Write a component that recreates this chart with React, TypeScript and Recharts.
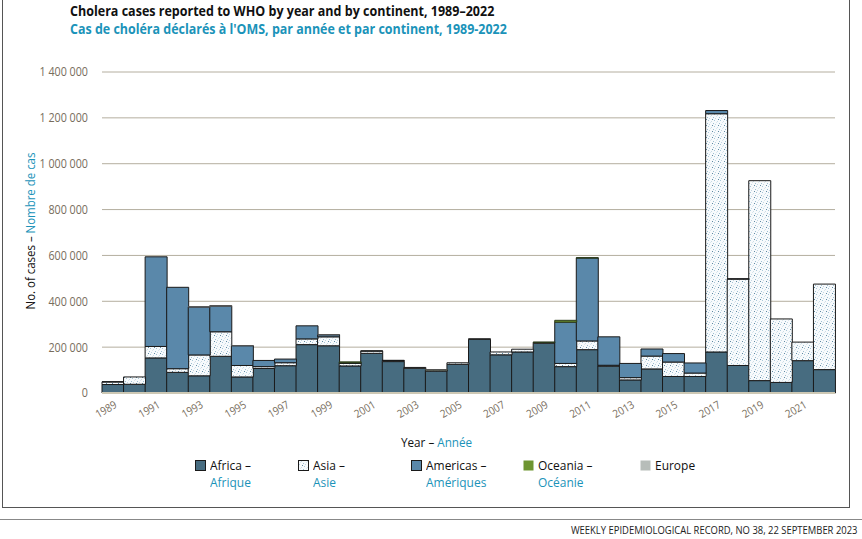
import React from "react";
import { Bar, BarChart, CartesianGrid, XAxis, YAxis } from "recharts";

const years = [
  1989, 1990, 1991, 1992, 1993, 1994, 1995, 1996, 1997, 1998, 1999, 2000, 2001, 2002, 2003, 2004, 2005,
  2006, 2007, 2008, 2009, 2010, 2011, 2012, 2013, 2014, 2015, 2016, 2017, 2018, 2019, 2020, 2021, 2022,
];
const africa = [
  37000, 38000, 153000, 90000, 75000, 160000, 70000, 107000, 119000, 211000, 206000, 118000, 173000,
  137000, 108000, 95500, 125000, 234000, 166500, 179000, 217000, 115000, 189000, 117000, 57000, 105000,
  72000, 72000, 179000, 120000, 54000, 46000, 141000, 102000,
];
const asia = [
  11500, 32000, 50000, 16000, 91000, 107000, 50000, 8000, 13000, 25000, 39000, 11000, 10000, 5000, 3500,
  5800, 6800, 2500, 12500, 12000, 4000, 14000, 38000, 4000, 10000, 56000, 63000, 15000, 1039000, 377000,
  872000, 277000, 81000, 373000,
];
const americas = [
  300, 0, 391000, 355000, 209000, 112000, 86000, 27000, 16000, 57000, 9000, 3000, 500, 100, 0, 0, 0, 0,
  0, 0, 0, 180000, 362000, 124000, 62000, 31000, 37000, 44000, 14000, 1000, 0, 0, 0, 0,
];
const oceania = [
  0, 0, 0, 0, 0, 0, 0, 0, 0, 0, 0, 3800, 0, 0, 0, 200, 0, 0, 0, 0, 500, 8000, 1000, 0, 0, 0, 0, 0, 0,
  0, 0, 0, 0, 0,
];
const europe = [
  0, 0, 0, 0, 1500, 2500, 1000, 0, 0, 0, 500, 0, 0, 0, 0, 50, 0, 0, 0, 0, 0, 0, 0, 0, 0, 0, 0, 0, 0, 0,
  0, 0, 0, 0,
];
const yTicks = [0, 200000, 400000, 600000, 800000, 1000000, 1200000, 1400000];

const data = years.map((year, i) => ({
  year,
  africa: africa[i],
  asia: asia[i],
  americas: americas[i],
  oceania: oceania[i],
  europe: europe[i],
}));

const FONT = '"Open Sans", "DejaVu Sans", sans-serif';
const TEAL = "#1b93b9";
const TICK = "#776d5d";
const AFRICA = "#476c80";
const AMERICAS = "#5a88aa";
const OCEANIA = "#6e9531";
const EUROPE = "#b7bdb9";

const fmt = (v: number) => String(v).replace(/\B(?=(\d{3})+(?!\d))/g, " ");

function YearTick(props: any) {
  const { x, y, payload } = props;
  return (
    <g transform={`translate(${x + 5} ${y + 6}) rotate(-30) scale(0.9 1)`}>
      <text x={0} y={0} textAnchor="end" fill={TICK} fontSize={11} fontFamily={FONT}>
        {payload.value}
      </text>
    </g>
  );
}

function CaseTick(props: any) {
  const { x, y, payload } = props;
  return (
    <g transform={`translate(${x} ${y}) scale(0.86 1)`}>
      <text x={0} y={0} dy="0.35em" textAnchor="end" fill={TICK} fontSize={12.5} fontFamily={FONT}>
        {fmt(payload.value)}
      </text>
    </g>
  );
}

// speckled fill used for Asia
function DotPattern({ id }: { id: string }) {
  return (
    <pattern id={id} width={6} height={6} patternUnits="userSpaceOnUse">
      <rect width={6} height={6} fill="#f7fafc" />
      <rect x={0} y={0} width={1} height={1} fill="#a7c6d8" />
      <rect x={3} y={1} width={1} height={1} fill="#c9dce7" />
      <rect x={5} y={3} width={1} height={1} fill="#9dbfd2" />
      <rect x={1} y={4} width={1} height={1} fill="#c2d7e4" />
      <rect x={4} y={5} width={1} height={1} fill="#5f8aa3" />
      <rect x={2} y={2} width={1} height={1} fill="#dbe7ee" />
    </pattern>
  );
}

function Swatch({ fill, border }: { fill: string; border: boolean }) {
  return (
    <svg width={11} height={11} style={{ position: "absolute", left: 0, top: 3 }}>
      <defs>
        <DotPattern id="asiaDotsLegend" />
      </defs>
      <rect x={0.5} y={0.5} width={10} height={10} fill={fill} stroke={border ? "#1a1a1a" : "none"} />
    </svg>
  );
}

const legendItems = [
  { left: 195, fill: AFRICA, border: true, en: "Africa –", fr: "Afrique" },
  { left: 298, fill: "url(#asiaDotsLegend)", border: true, en: "Asia –", fr: "Asie" },
  { left: 411, fill: AMERICAS, border: true, en: "Americas –", fr: "Amériques" },
  { left: 523, fill: OCEANIA, border: false, en: "Oceania –", fr: "Océanie" },
  { left: 640, fill: EUROPE, border: false, en: "Europe", fr: "" },
];

const narrow = (s: number, origin = "left top"): React.CSSProperties => ({
  transform: `scaleX(${s})`,
  transformOrigin: origin,
  whiteSpace: "nowrap",
});

export default function App() {
  return (
    <div
      style={{
        position: "absolute",
        left: 0,
        top: 0,
        width: 862,
        height: 539,
        background: "#ffffff",
        fontFamily: FONT,
        overflow: "hidden",
      }}
    >
      {/* frame */}
      <div
        style={{
          position: "absolute",
          left: 2,
          top: -1,
          width: 846,
          height: 508,
          borderLeft: "1px solid #555",
          borderRight: "1px solid #555",
          borderBottom: "1px solid #555",
        }}
      />
      <div style={{ position: "absolute", left: 0, top: 519, width: 862, height: 0, borderTop: "1px solid #888" }} />

      <div style={{ position: "absolute", left: 70, top: 2, fontSize: 14, fontWeight: 700, color: "#111", lineHeight: "17px", ...narrow(0.894) }}>
        Cholera cases reported to WHO by year and by continent, 1989–2022
      </div>
      <div style={{ position: "absolute", left: 70, top: 20, fontSize: 14, fontWeight: 700, color: TEAL, lineHeight: "17px", ...narrow(0.89) }}>
        Cas de choléra déclarés à l'OMS, par année et par continent, 1989-2022
      </div>

      <div style={{ position: "absolute", left: 0, top: 0 }}>
        <BarChart
          width={862}
          height={539}
          data={data}
          barCategoryGap={0}
          margin={{ top: 72, right: 27, bottom: 106, left: 40 }}
        >
          <defs>
            <DotPattern id="asiaDots" />
          </defs>
          <CartesianGrid vertical={false} stroke="#b4ae9f" strokeWidth={1} />
          <XAxis
            dataKey="year"
            interval={1}
            tickLine={false}
            axisLine={{ stroke: "#cdc8b4", strokeWidth: 2 }}
            tick={<YearTick />}
            height={40}
          />
          <YAxis
            domain={[0, 1400000]}
            ticks={yTicks}
            axisLine={false}
            tickLine={false}
            tickMargin={8}
            width={62}
            tick={<CaseTick />}
          />
          <Bar dataKey="africa" stackId="a" fill={AFRICA} stroke="#1a1a1a" strokeWidth={1} isAnimationActive={false} />
          <Bar dataKey="asia" stackId="a" fill="url(#asiaDots)" stroke="#1a1a1a" strokeWidth={1} isAnimationActive={false} />
          <Bar dataKey="americas" stackId="a" fill={AMERICAS} stroke="#1a1a1a" strokeWidth={1} isAnimationActive={false} />
          <Bar dataKey="oceania" stackId="a" fill={OCEANIA} stroke="#2a3a1a" strokeWidth={1} isAnimationActive={false} />
          <Bar dataKey="europe" stackId="a" fill={EUROPE} stroke="#555" strokeWidth={1} isAnimationActive={false} />
        </BarChart>
      </div>

      {/* y axis label */}
      <div
        style={{
          position: "absolute",
          left: 30,
          top: 231,
          transform: "translate(-50%, -50%) rotate(-90deg) scaleX(0.88)",
          whiteSpace: "nowrap",
          fontSize: 13,
          color: "#111",
        }}
      >
        No. of cases – <span style={{ color: TEAL }}>Nombre de cas</span>
      </div>

      {/* x axis label */}
      <div style={{ position: "absolute", left: 0, width: 874, top: 433, textAlign: "center", fontSize: 13, color: "#111" }}>
        <span style={{ display: "inline-block", transform: "scaleX(0.9)" }}>
          Year – <span style={{ color: TEAL }}>Année</span>
        </span>
      </div>

      {/* legend */}
      {legendItems.map((it) => (
        <div key={it.en} style={{ position: "absolute", left: it.left, top: 457, fontSize: 13, lineHeight: "17px" }}>
          <Swatch fill={it.fill} border={it.border} />
          <div style={{ marginLeft: 15, color: "#111", ...narrow(0.92) }}>{it.en}</div>
          <div style={{ marginLeft: 15, color: TEAL, ...narrow(0.92) }}>{it.fr}</div>
        </div>
      ))}

      <div style={{ position: "absolute", right: 5, top: 523, fontSize: 11.5, color: "#222", lineHeight: "14px", ...narrow(0.82, "right top") }}>
        WEEKLY EPIDEMIOLOGICAL RECORD, NO 38, 22 SEPTEMBER 2023
      </div>
    </div>
  );
}
